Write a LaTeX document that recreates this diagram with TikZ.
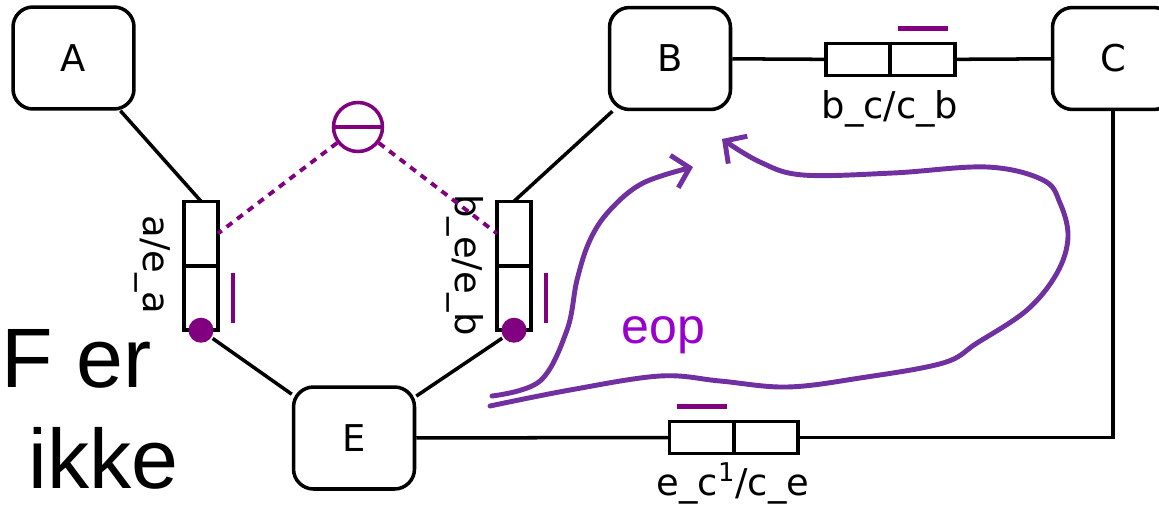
\documentclass[tikz,border=0pt]{standalone}
\usepackage{fontspec}
\setmainfont{DejaVu Sans}
\newfontfamily\arialfont{Liberation Sans}
\usetikzlibrary{arrows.meta,calc,positioning}

\definecolor{signpurple}{HTML}{800080}
\definecolor{flowpurple}{HTML}{7030A0}
\definecolor{eopviolet}{HTML}{9900CC}

\begin{document}
\begin{tikzpicture}[x=0.02cm, y=-0.02cm, line width=2pt,
    font=\fontsize{21}{25}\selectfont, node distance=0pt,
    station/.style={draw, rounded corners=0.4cm, minimum width=2.42cm, minimum height=2.04cm},
    hcell/.style={draw, inner sep=0pt, outer sep=0pt, minimum width=1.29cm, minimum height=0.64cm},
    vcell/.style={draw, inner sep=0pt, outer sep=0pt, minimum width=0.68cm, minimum height=1.29cm},
    sdot/.style={circle, fill=signpurple, inner sep=0pt, minimum size=0.5cm},
    signbar/.style={draw=signpurple, line width=2.8pt},
    dotline/.style={draw=signpurple, line width=2.2pt, dash pattern=on 4pt off 3.5pt},
    flow/.style={draw=flowpurple, line width=2.8pt, line cap=round,
        -{Straight Barb[length=9pt,width=19pt]}}]
    \useasboundingbox (0,0) rectangle (1159,507);

    \node [station] at (73.5,58)           (A) {A};
    \node [station] at (670,58.5)          (B) {B};
    \node [station] at (1113,58.5)         (C) {C};
    \node [station] at (354,438)           (E) {E};

    % two-cell boxes on the links
    \node [vcell] at (201,233.5)           (ae1) {};
    \node [vcell] [below=of ae1]           (ae2) {};
    \node [vcell] at (514,233.5)           (be1) {};
    \node [vcell] [below=of be1]           (be2) {};
    \node [hcell] at (858,59.5)            (bc1) {};
    \node [hcell] [right=of bc1]           (bc2) {};
    \node [hcell] at (701.5,437.5)         (ec1) {};
    \node [hcell] [right=of ec1]           (ec2) {};

    \node [rotate=-90, anchor=base] at (143,265) (aelabel) {a/e\_a};
    \node [rotate=-90, anchor=base] at (455,265) (belabel) {b\_e/e\_b};
    \node [anchor=base] at (890,118)       (bclabel) {b\_c/c\_b};
    \node [anchor=base] at (733,495)       (eclabel) {e\_c\textsuperscript{1}/c\_e};

    \node [sdot] at (ae2.south)            (aedot) {};
    \node [sdot] at (be2.south)            (bedot) {};

    \path[draw] (A) edge (ae1.north)
                (B) edge (be1.north)
                (aedot) edge (E)
                (bedot) edge (E)
                (B) edge (bc1)
                (bc2) edge (C)
                (E) edge (ec1);
    \draw (ec2) -| (C);

    % minus sign and its dotted links
    \node [circle, draw=signpurple, minimum size=0.98cm, inner sep=0pt] at (358,127) (neg) {};
    \draw [signpurple] (neg.west) -- (neg.east);
    \draw [dotline] (neg) -- (ae1.east);
    \draw [dotline] (neg) -- (be1.west);

    \draw [signbar] ($(ae2.east)+(15,-25)$) -- ($(ae2.east)+(15,25)$);
    \draw [signbar] ($(be2.east)+(15,-25)$) -- ($(be2.east)+(15,25)$);
    \draw [signbar] ($(bc2.north)+(-25,-15)$) -- ($(bc2.north)+(25,-15)$);
    \draw [signbar] ($(ec1.north)+(-25,-15)$) -- ($(ec1.north)+(25,-15)$);

    \node [anchor=base west, inner sep=0pt, font=\arialfont\fontsize{48}{58}\selectfont] at (0,387) (fer) {F er};
    \node [anchor=base west, inner sep=0pt, font=\arialfont\fontsize{48}{58}\selectfont] at (27,488) (ikke) {ikke};
    \node [anchor=base west, inner sep=0pt, text=eopviolet, font=\arialfont\fontsize{28.5}{34}\selectfont] at (620,343) (eop) {eop};

    % hand drawn paths
    \draw [flow] plot [smooth, tension=0.6] coordinates {(492,396) (540,381) (567,330) (577,280)
        (590,240) (610,210) (643,183) (693,167)};
    \draw [flow] plot [smooth, tension=0.6] coordinates {(490,406) (570,390) (660,376) (720,381)
        (787,387) (860,378) (943,363) (977,343) (1027,310) (1057,273) (1068,237) (1060,203)
        (1043,180) (987,167) (893,173) (803,175) (760,162) (722,139)};
\end{tikzpicture}
\end{document}
